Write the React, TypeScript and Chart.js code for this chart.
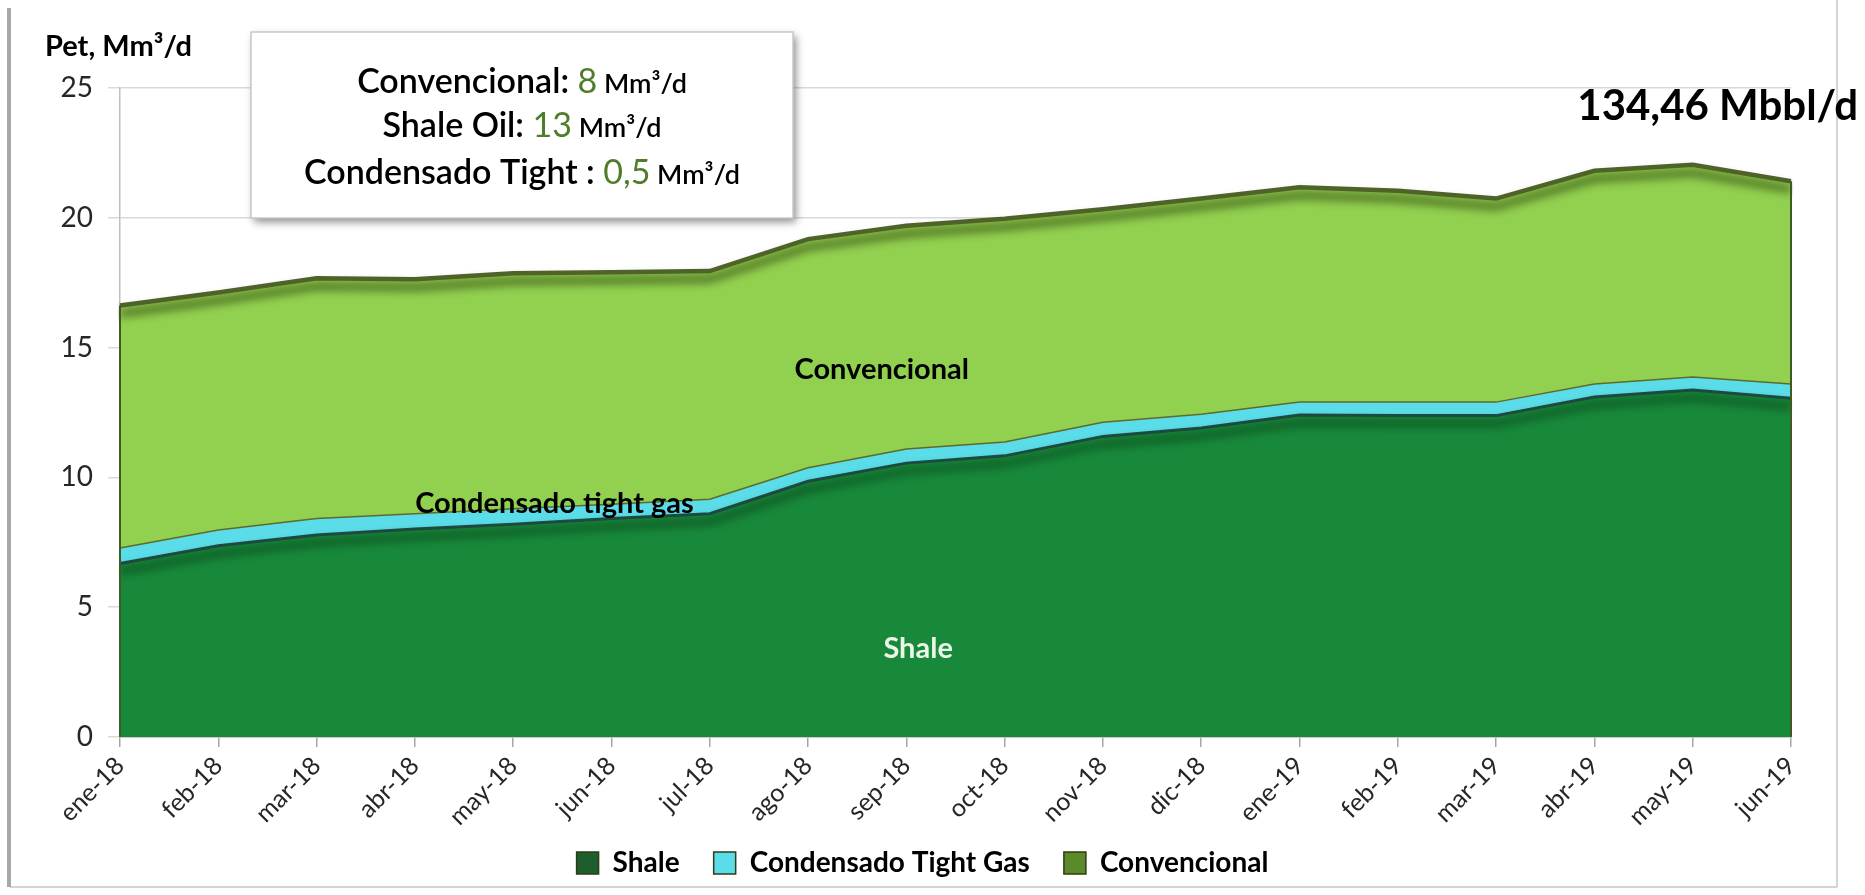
import React, { useEffect, useRef } from 'react';
import { Chart, registerables } from 'chart.js';

Chart.register(...registerables);

// ---------- data ----------
const months = ['ene-18', 'feb-18', 'mar-18', 'abr-18', 'may-18', 'jun-18', 'jul-18', 'ago-18', 'sep-18', 'oct-18', 'nov-18', 'dic-18', 'ene-19', 'feb-19', 'mar-19', 'abr-19', 'may-19', 'jun-19'];
const shale = [6.68, 7.37, 7.78, 8.01, 8.2, 8.42, 8.6, 9.85, 10.55, 10.83, 11.58, 11.9, 12.4, 12.38, 12.38, 13.1, 13.37, 13.05];
const tightGas = [0.6, 0.6, 0.64, 0.59, 0.59, 0.55, 0.56, 0.52, 0.54, 0.53, 0.54, 0.53, 0.5, 0.52, 0.52, 0.5, 0.5, 0.55];
const convencional = [9.34, 9.15, 9.25, 9.03, 9.07, 8.93, 8.79, 8.81, 8.6, 8.6, 8.21, 8.31, 8.28, 8.14, 7.84, 8.21, 8.17, 7.81];
const seriesNames = ['Shale', 'Condensado Tight Gas', 'Convencional'];
const yMin = 0;
const yMax = 25;
const yStep = 5;
const yTitle = 'Pet, Mm³/d';
const totalLabel = '134,46 Mbbl/d';
const summaryLines = [
  ['Convencional: ', '8', ' Mm³/d'],
  ['Shale Oil: ', '13', ' Mm³/d'],
  ['Condensado Tight : ', '0,5', ' Mm³/d'],
];
const areaLabels = ['Convencional', 'Condensado tight gas', 'Shale'];

// ---------- styles ----------
const FONT = 'Lato, "Open Sans", sans-serif';
const areaColors = ['#18893b', '#5adde8', '#92d050'];
const lineColors = ['#1d4a3e', '#5e6a2a', '#4f6228'];
const legendColors = ['#1d5e2c', '#5adde8', '#5c8a2a'];

const shadowPlugin = {
  id: 'lineShadow',
  beforeDatasetDraw(chart: any, args: any) {
    const ctx = chart.ctx;
    ctx.save();
    const ds = chart.data.datasets[args.index];
    if (ds.shadowColor) {
      ctx.shadowColor = ds.shadowColor;
      ctx.shadowBlur = ds.shadowBlur;
      ctx.shadowOffsetX = 0;
      ctx.shadowOffsetY = ds.shadowOffsetY;
    }
  },
  afterDatasetDraw(chart: any) {
    chart.ctx.restore();
  },
};

// let the rotated month labels use the space down to the legend (the x box is kept short for the legend position)
const labelRoomPlugin = {
  id: 'labelRoom',
  afterLayout(chart: any) {
    const xs = chart.scales.x;
    if (xs) xs.bottom = xs.top + 110;
  },
};

const framePlugin = {
  id: 'frame',
  beforeDraw(chart: any) {
    const ctx = chart.ctx;
    ctx.save();
    ctx.fillStyle = '#ffffff';
    ctx.fillRect(0, 0, chart.width, chart.height);
    ctx.strokeStyle = '#d4d4d4';
    ctx.lineWidth = 2;
    ctx.beginPath();
    ctx.moveTo(10, 887);
    ctx.lineTo(1837, 887);
    ctx.moveTo(1837, 0);
    ctx.lineTo(1837, 887);
    ctx.stroke();
    ctx.strokeStyle = '#a8a8a8';
    ctx.lineWidth = 4;
    ctx.beginPath();
    ctx.moveTo(9, 8);
    ctx.lineTo(9, 887);
    ctx.stroke();
    ctx.restore();
  },
};

// closes the stacked area at its left and right ends with the dark edge, from the data
const edgePlugin = {
  id: 'areaEdges',
  afterDatasetsDraw(chart: any) {
    const ctx = chart.ctx;
    const xs = chart.scales.x;
    const ys = chart.scales.y;
    const last = months.length - 1;
    const topLast = shale[last] + tightGas[last] + convencional[last];
    const topFirst = shale[0] + tightGas[0] + convencional[0];
    ctx.save();
    ctx.strokeStyle = '#3f5a22';
    ctx.lineWidth = 2;
    ctx.beginPath();
    ctx.moveTo(xs.getPixelForValue(last), ys.getPixelForValue(topLast));
    ctx.lineTo(xs.getPixelForValue(last), ys.getPixelForValue(0));
    ctx.moveTo(xs.getPixelForValue(0), ys.getPixelForValue(topFirst));
    ctx.lineTo(xs.getPixelForValue(0), ys.getPixelForValue(0));
    ctx.stroke();
    ctx.restore();
  },
};

function drawMixedLine(ctx: CanvasRenderingContext2D, parts: string[], cx: number, cy: number) {
  const fonts = [`600 34px ${FONT}`, `400 34px ${FONT}`, `600 27px ${FONT}`];
  const colors = ['#000000', '#4f7d2a', '#000000'];
  const widths = parts.map((p, i) => {
    ctx.font = fonts[i];
    return ctx.measureText(p).width;
  });
  const total = widths.reduce((a, b) => a + b, 0);
  let x = cx - total / 2;
  ctx.textAlign = 'left';
  ctx.textBaseline = 'alphabetic';
  parts.forEach((p, i) => {
    ctx.font = fonts[i];
    ctx.fillStyle = colors[i];
    ctx.fillText(p, x, cy + 12);
    x += widths[i];
  });
}

const annotationPlugin = {
  id: 'annotations',
  afterDraw(chart: any) {
    const ctx = chart.ctx;
    const xs = chart.scales.x;
    const ys = chart.scales.y;
    ctx.save();
    // in-chart labels
    ctx.textAlign = 'center';
    ctx.textBaseline = 'middle';
    ctx.font = `700 29px ${FONT}`;
    ctx.fillStyle = '#000000';
    ctx.fillText(areaLabels[0], xs.getPixelForValue(7.75), ys.getPixelForValue(14.15));
    ctx.fillText(areaLabels[1], xs.getPixelForValue(4.42), ys.getPixelForValue(8.99));
    ctx.fillStyle = '#eaf6e6';
    ctx.fillText(areaLabels[2], xs.getPixelForValue(8.12), ys.getPixelForValue(3.4));

    // y title
    ctx.textAlign = 'left';
    ctx.fillStyle = '#000000';
    ctx.font = `700 29px ${FONT}`;
    ctx.fillText(yTitle, 45, 47);

    // total label
    ctx.textAlign = 'right';
    ctx.font = `700 42px ${FONT}`;
    ctx.fillText(totalLabel, 1858, 106);

    // summary box
    ctx.save();
    ctx.shadowColor = 'rgba(0,0,0,0.45)';
    ctx.shadowBlur = 8;
    ctx.shadowOffsetX = 3;
    ctx.shadowOffsetY = 4;
    ctx.fillStyle = '#ffffff';
    ctx.fillRect(251, 32, 542, 186);
    ctx.restore();
    ctx.strokeStyle = '#c8c8c8';
    ctx.lineWidth = 1.5;
    ctx.strokeRect(251, 32, 542, 186);
    const lineY = [81, 125, 172];
    summaryLines.forEach((parts, i) => drawMixedLine(ctx, parts, 522, lineY[i]));
    ctx.restore();
  },
};

export default function App() {
  const canvasRef = useRef<HTMLCanvasElement | null>(null);

  useEffect(() => {
    let chart: Chart | null = null;
    let cancelled = false;
    const make = () => {
      if (cancelled || !canvasRef.current) return;
      Chart.defaults.font.family = FONT;
      chart = new Chart(canvasRef.current, {
        type: 'line',
        data: {
          labels: months,
          datasets: [
            {
              label: seriesNames[0],
              data: shale,
              fill: 'origin',
              backgroundColor: areaColors[0],
              borderColor: lineColors[0],
              borderWidth: 3,
              pointRadius: 0,
              tension: 0,
              shadowColor: 'rgba(0,34,10,1)',
              shadowBlur: 10,
              shadowOffsetY: 8,
            } as any,
            {
              label: seriesNames[1],
              data: tightGas,
              fill: '-1',
              backgroundColor: areaColors[1],
              borderColor: lineColors[1],
              borderWidth: 1.5,
              pointRadius: 0,
              tension: 0,
            } as any,
            {
              label: seriesNames[2],
              data: convencional,
              fill: '-1',
              backgroundColor: areaColors[2],
              borderColor: lineColors[2],
              borderWidth: 4.5,
              pointRadius: 0,
              tension: 0,
              shadowColor: 'rgba(34,52,6,1)',
              shadowBlur: 10,
              shadowOffsetY: 8,
            } as any,
          ],
        },
        options: {
          responsive: false,
          animation: false,
          devicePixelRatio: 1,
          layout: { padding: { left: 10, right: 30, top: 88, bottom: 8 } },
          plugins: {
            tooltip: { enabled: false },
            legend: {
              position: 'bottom',
              labels: {
                font: { size: 28, weight: 'bold', family: FONT },
                color: '#000000',
                boxWidth: 22,
                boxHeight: 22,
                padding: 34,
                generateLabels: () =>
                  seriesNames.map((t, i) => ({
                    text: t,
                    fillStyle: legendColors[i],
                    strokeStyle: '#2e3b14',
                    lineWidth: 1.5,
                    hidden: false,
                    datasetIndex: i,
                    fontColor: '#000000',
                  })) as any,
              },
            },
          },
          scales: {
            x: {
              grid: { drawOnChartArea: false, drawTicks: true, tickLength: 10, color: '#a6a6a6', lineWidth: 1.5 },
              border: { display: true, color: '#a6a6a6', width: 1.5 },
              ticks: {
                autoSkip: false,
                maxRotation: 45,
                minRotation: 45,
                padding: 4,
                color: '#262626',
                font: { size: 25, family: FONT },
              },
              afterFit: (s: any) => {
                s.height = 78;
              },
            },
            y: {
              stacked: true,
              min: yMin,
              max: yMax,
              ticks: { stepSize: yStep, color: '#262626', padding: 15, font: { size: 28, family: FONT } },
              grid: { color: '#d9d9d9', lineWidth: 1.5, tickLength: 12 },
              border: { display: true, color: '#bfbfbf', width: 1.5 },
              afterFit: (s: any) => {
                s.width = 110;
              },
            },
            y2: {
              position: 'right',
              display: true,
              min: 0,
              max: 1,
              grid: { display: false, drawTicks: false },
              ticks: { display: false },
              border: { display: false },
              afterFit: (s: any) => {
                s.width = 44;
              },
            },
          },
        },
        plugins: [framePlugin, labelRoomPlugin, shadowPlugin, edgePlugin, annotationPlugin],
      } as any);
    };
    const fonts = (document as any).fonts;
    if (fonts && fonts.load) {
      Promise.all([
        fonts.load(`400 20px Lato`),
        fonts.load(`600 20px Lato`),
        fonts.load(`700 20px Lato`),
      ]).then(make, make);
    } else {
      make();
    }
    return () => {
      cancelled = true;
      if (chart) chart.destroy();
    };
  }, []);

  return (
    <div style={{ position: 'absolute', left: 0, top: 0, width: 1865, height: 895, background: '#ffffff' }}>
      <canvas ref={canvasRef} width={1865} height={895} style={{ display: 'block', width: 1865, height: 895 }} />
    </div>
  );
}
